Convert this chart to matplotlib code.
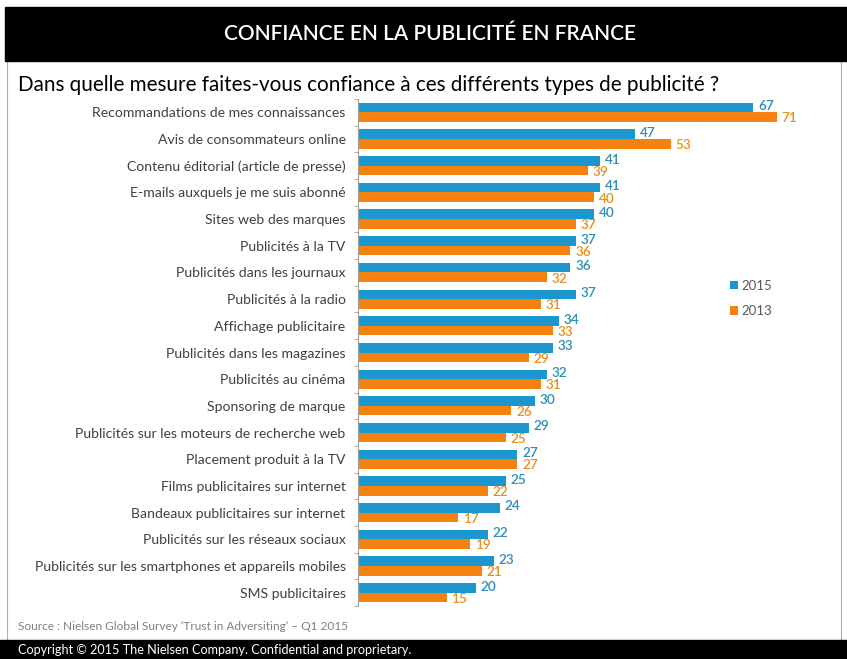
import numpy as np
from matplotlib import pyplot as plt
from matplotlib.patches import Rectangle

categories = [
    "Recommandations de mes connaissances",
    "Avis de consommateurs online",
    "Contenu éditorial (article de presse)",
    "E-mails auxquels je me suis abonné",
    "Sites web des marques",
    "Publicités à la TV",
    "Publicités dans les journaux",
    "Publicités à la radio",
    "Affichage publicitaire",
    "Publicités dans les magazines",
    "Publicités au cinéma",
    "Sponsoring de marque",
    "Publicités sur les moteurs de recherche web",
    "Placement produit à la TV",
    "Films publicitaires sur internet",
    "Bandeaux publicitaires sur internet",
    "Publicités sur les réseaux sociaux",
    "Publicités sur les smartphones et appareils mobiles",
    "SMS publicitaires",
]
values_2015 = [67, 47, 41, 41, 40, 37, 36, 37, 34, 33, 32, 30, 29, 27, 25, 24, 22, 23, 20]
values_2013 = [71, 53, 39, 40, 37, 36, 32, 31, 33, 29, 31, 26, 25, 27, 22, 17, 19, 21, 15]
series_labels = ["2015", "2013"]

BLUE = "#1C96CE"
ORANGE = "#F5820F"
BLUE_TXT = "#2B8DBA"
ORANGE_TXT = "#E88F1C"

plt.rcParams['font.family'] = ['Lato', 'DejaVu Sans']

W, H = 847, 659
fig = plt.figure(figsize=(W / 100, H / 100), dpi=100)


def fx(px):
    return px / W


def fy(py):
    return 1 - py / H


# frame and header / footer bars
fig.patches.append(Rectangle((fx(7), fy(645)), fx(834), (645 - 55) / H,
                             transform=fig.transFigure, facecolor="none",
                             edgecolor="#B0B0B0", lw=0.8))
fig.patches.append(Rectangle((fx(5), fy(61)), fx(842), 54 / H,
                             transform=fig.transFigure, color="black"))
fig.patches.append(Rectangle((0, 0), 1, 19 / H,
                             transform=fig.transFigure, color="black"))

fig.text(fx(430), fy(34), "CONFIANCE EN LA PUBLICITÉ EN FRANCE", color="white",
         fontsize=15, ha="center", va="center", fontweight="semibold")
fig.text(fx(18), fy(85), "Dans quelle mesure faites-vous confiance à ces différents types de publicité ?",
         fontsize=14.9, ha="left", va="center", color="black")
fig.text(fx(18), fy(627), "Source : Nielsen Global Survey \u2018Trust in Adversiting\u2019 \u2013 Q1 2015",
         fontsize=8.55, ha="left", va="center", color="#7F7F7F")
fig.text(fx(18), fy(650), "Copyright © 2015 The Nielsen Company. Confidential and proprietary.",
         fontsize=9.1, ha="left", va="center", color="white")

# chart area
top_px, bottom_px = 99, 606
ax = fig.add_axes([fx(358), fy(bottom_px), fx(830 - 358), (bottom_px - top_px) / H])

y = np.arange(len(categories))
h = 0.36
ax.barh(y - h / 2, values_2015, height=h, color=BLUE, label=series_labels[0])
ax.barh(y + h / 2, values_2013, height=h, color=ORANGE, label=series_labels[1])

for yi, v in zip(y, values_2015):
    ax.text(v + 0.8, yi - h / 2 - 0.05, str(v), color=BLUE_TXT, fontsize=9.8,
            ha="left", va="center", fontweight="semibold")
for yi, v in zip(y, values_2013):
    ax.text(v + 0.8, yi + h / 2 + 0.05, str(v), color=ORANGE_TXT, fontsize=9.8,
            ha="left", va="center", fontweight="semibold")

ax.set_xlim(0, 80)
ax.set_ylim(len(categories) - 0.5, -0.5)
ax.set_yticks(y)
ax.set_yticklabels(categories, fontsize=10.1, color="#404040")
ax.tick_params(axis="y", length=0, pad=9)
ax.set_yticks(np.arange(len(categories) + 1) - 0.5, minor=True)
ax.tick_params(axis="y", which="minor", length=3, color="#A0A0A0")
ax.set_xticks([])
for side in ["top", "right", "bottom"]:
    ax.spines[side].set_visible(False)
ax.spines["left"].set_color("#A0A0A0")

leg = ax.legend(loc="upper left", bbox_to_anchor=(fx(718 - 358) / fx(472), 1 - (268 - top_px) / (bottom_px - top_px)),
                frameon=False, fontsize=9.5, handlelength=0.6, handleheight=0.6,
                handletextpad=0.3, labelspacing=1.0, labelcolor="#595959")

fig.savefig("out.png", dpi=100)
